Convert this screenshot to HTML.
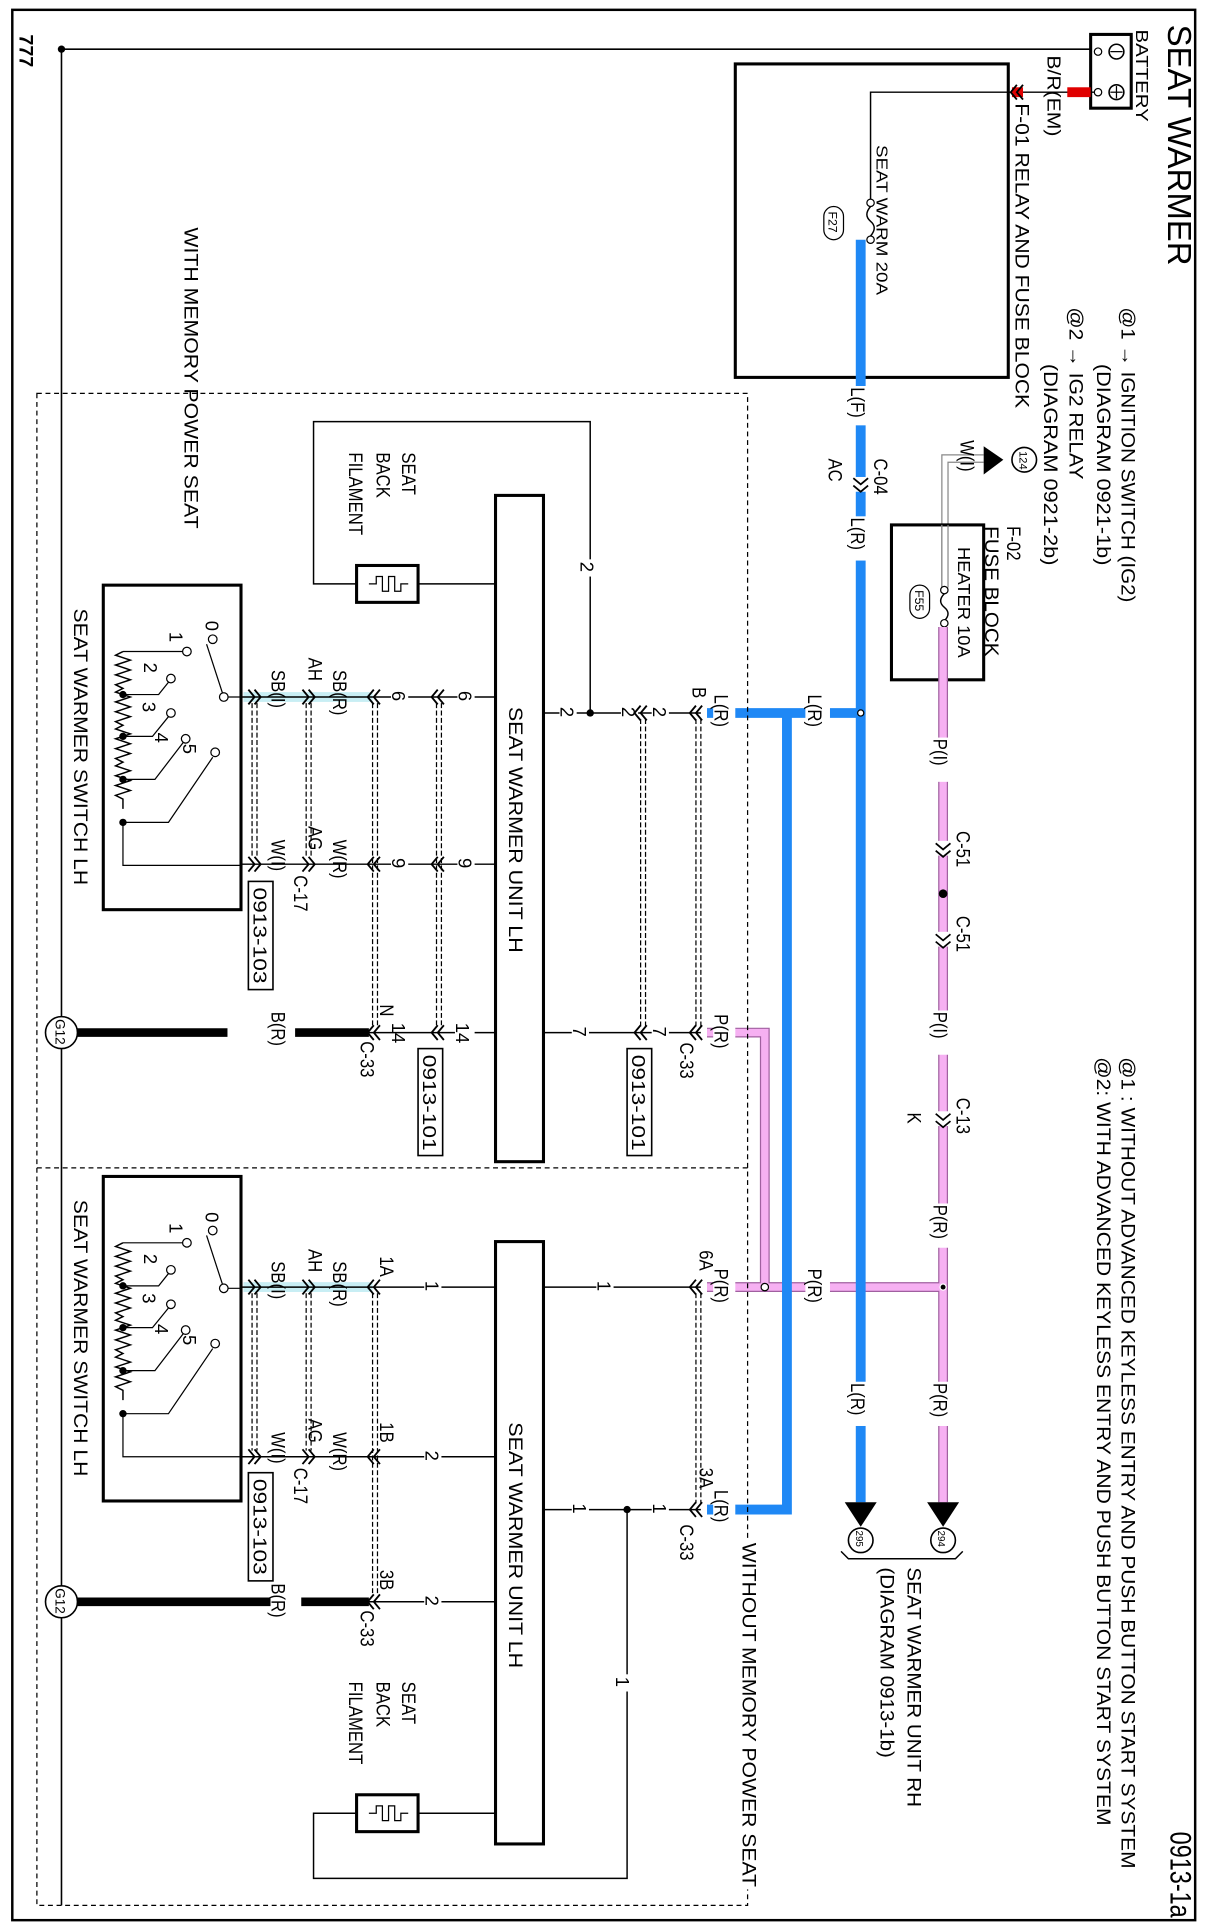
<!DOCTYPE html>
<html><head><meta charset="utf-8"><style>
html,body{margin:0;padding:0;background:#fff}
svg{display:block}
text{font-family:"Liberation Sans",Arial,sans-serif;fill:#000}
</style></head><body>
<svg width="1205" height="1930" viewBox="0 0 980 1570" preserveAspectRatio="none" xmlns="http://www.w3.org/2000/svg">
<defs>
<g id="chev"><path d="M5,-6 L0,0 L5,6 M10,-6 L5,0 L10,6" fill="none" stroke="#000" stroke-width="1.5"/></g>
<g id="chevR"><path d="M-5,-6 L0,0 L-5,6 M-10,-6 L-5,0 L-10,6" fill="none" stroke="#000" stroke-width="1.5"/></g>
</defs>
<rect width="980" height="1570" fill="#fff"/>
<rect x="10" y="8" width="962" height="1554" fill="none" stroke="#000" stroke-width="2"/>

<line x1="50" y1="40" x2="893" y2="40" stroke="#000" stroke-width="1.3"/>
<line x1="50" y1="40" x2="50" y2="1550" stroke="#000" stroke-width="1.3"/>
<circle cx="50" cy="40" r="3" fill="#000"/>
<text transform="translate(16,28) rotate(90)" font-size="16" font-weight="bold">777</text>

<rect x="887" y="28" width="33" height="60" fill="#fff" stroke="#000" stroke-width="2.5"/>
<circle cx="908" cy="42" r="6" fill="none" stroke="#000" stroke-width="1.3"/><line x1="903" y1="42" x2="913" y2="42" stroke="#000"/>
<circle cx="908" cy="75" r="6" fill="none" stroke="#000" stroke-width="1.3"/><line x1="903" y1="75" x2="913" y2="75" stroke="#000"/><line x1="908" y1="70" x2="908" y2="80" stroke="#000"/>
<circle cx="893" cy="42" r="3" fill="#fff" stroke="#000"/>
<circle cx="893" cy="75" r="3" fill="#fff" stroke="#000"/>
<line x1="822" y1="75" x2="890" y2="75" stroke="#000" stroke-width="1.2"/>
<rect x="868" y="71" width="19" height="8" fill="#e00000"/>
<rect x="823" y="71" width="9" height="8" fill="#e00000"/>
<use href="#chev" x="822" y="75"/>

<rect x="598" y="52" width="222" height="255" fill="none" stroke="#000" stroke-width="2.5"/>
<polyline points="822,75 708,75 708,162" fill="none" stroke="#000" stroke-width="1.2"/>
<circle cx="708" cy="165" r="3" fill="#fff" stroke="#000"/>
<path d="M708,168 q-6,7 0,12 q6,5 0,12" fill="none" stroke="#000" stroke-width="1.2"/>
<circle cx="708" cy="195" r="3" fill="#fff" stroke="#000"/>
<rect x="670" y="168" width="16" height="27" rx="8" fill="none" stroke="#000"/>
<text transform="translate(674,172) rotate(90)" font-size="10">F27</text>
<text transform="translate(713,118) rotate(90)" font-size="13" textLength="122" lengthAdjust="spacingAndGlyphs">SEAT WARM 20A</text>

<text transform="translate(950,20) rotate(90)" font-size="27" textLength="196" lengthAdjust="spacingAndGlyphs">SEAT WARMER</text>
<text transform="translate(952,1490) rotate(90)" font-size="24" textLength="70" lengthAdjust="spacingAndGlyphs">0913-1a</text>
<text transform="translate(924,24) rotate(90)" font-size="14" textLength="75" lengthAdjust="spacingAndGlyphs">BATTERY</text>
<text transform="translate(852,45) rotate(90)" font-size="15" textLength="66" lengthAdjust="spacingAndGlyphs">B/R(EM)</text>
<text transform="translate(826,84) rotate(90)" font-size="16" textLength="248" lengthAdjust="spacingAndGlyphs">F-01 RELAY AND FUSE BLOCK</text>
<text transform="translate(912,250) rotate(90)" font-size="16" textLength="240" lengthAdjust="spacingAndGlyphs">@1 → IGNITION SWITCH (IG2)</text>
<text transform="translate(892,296) rotate(90)" font-size="16" textLength="164" lengthAdjust="spacingAndGlyphs">(DIAGRAM 0921-1b)</text>
<text transform="translate(870,250) rotate(90)" font-size="16" textLength="140" lengthAdjust="spacingAndGlyphs">@2 → IG2 RELAY</text>
<text transform="translate(849,296) rotate(90)" font-size="16" textLength="164" lengthAdjust="spacingAndGlyphs">(DIAGRAM 0921-2b)</text>
<text transform="translate(912,860) rotate(90)" font-size="16" textLength="660" lengthAdjust="spacingAndGlyphs">@1 : WITHOUT ADVANCED KEYLESS ENTRY AND PUSH BUTTON START SYSTEM</text>
<text transform="translate(892,860) rotate(90)" font-size="16" textLength="625" lengthAdjust="spacingAndGlyphs">@2: WITH ADVANCED KEYLESS ENTRY AND PUSH BUTTON START SYSTEM</text>

<polyline points="800,370 766,370 766,500" fill="none" stroke="#888" stroke-width="1"/>
<polyline points="800,376 771,376 771,500" fill="none" stroke="#888" stroke-width="1"/>
<path d="M800,363 L800,386 L816,374 Z" fill="#000"/>
<circle cx="833" cy="374" r="10" fill="#fff" stroke="#000" stroke-width="1.3"/>
<text transform="translate(829,367) rotate(90)" font-size="9">124</text>
<text transform="translate(781,358) rotate(90) scale(.85,1)" font-size="16">W(I)</text>
<rect x="725" y="427" width="75" height="126" fill="#fff" stroke="#000" stroke-width="2.5"/>
<polyline points="766,427 766,480 M771,427 771,480" fill="none" stroke="#888" stroke-width="1"/>
<line x1="766" y1="427" x2="766" y2="478" stroke="#888"/><line x1="771" y1="427" x2="771" y2="478" stroke="#888"/>
<text transform="translate(819,428) rotate(90) scale(.85,1)" font-size="16">F-02</text>
<text transform="translate(801,428) rotate(90)" font-size="16" textLength="106" lengthAdjust="spacingAndGlyphs">FUSE BLOCK</text>
<text transform="translate(779,445) rotate(90)" font-size="14" textLength="90" lengthAdjust="spacingAndGlyphs">HEATER 10A</text>
<circle cx="768" cy="480" r="3" fill="#fff" stroke="#000"/>
<path d="M768,483 q-6,6 0,11 q6,5 0,11" fill="none" stroke="#000" stroke-width="1.2"/>
<circle cx="768" cy="507" r="3" fill="#fff" stroke="#000"/>
<rect x="740" y="476" width="16" height="27" rx="8" fill="none" stroke="#000"/>
<text transform="translate(744,480) rotate(90)" font-size="10">F55</text>

<g stroke="#a060a0" stroke-width="8" fill="none"><line x1="767" y1="510" x2="767" y2="1222"/><polyline points="575,840 622,840 622,1047"/><line x1="575" y1="1047" x2="767" y2="1047"/></g>
<g stroke="#f6b0f2" stroke-width="6" fill="none"><line x1="767" y1="510" x2="767" y2="1222"/><polyline points="575,840 622,840 622,1047"/><line x1="575" y1="1047" x2="767" y2="1047"/></g>
<g stroke="#1f88f5" stroke-width="8" fill="none"><line x1="700" y1="195" x2="700" y2="1222"/><line x1="575" y1="580" x2="700" y2="580"/><polyline points="640,580 640,1228 575,1228"/></g>
<circle cx="700" cy="580" r="2.5" fill="#fff" stroke="#000"/>
<circle cx="622" cy="1047" r="3" fill="#fff" stroke="#000"/>
<circle cx="767" cy="1047" r="2.5" fill="#000" stroke="#fff"/>
<circle cx="767" cy="727" r="3.5" fill="#000"/>

<g fill="#fff">
<rect x="690" y="314" width="20" height="32"/><rect x="690" y="388" width="20" height="12"/><rect x="690" y="420" width="20" height="36"/>
<rect x="757" y="600" width="20" height="36"/><rect x="757" y="684" width="20" height="12"/><rect x="757" y="758" width="20" height="12"/>
<rect x="757" y="822" width="20" height="36"/><rect x="757" y="904" width="20" height="12"/><rect x="757" y="979" width="20" height="36"/><rect x="757" y="1124" width="20" height="36"/>
<rect x="690" y="1124" width="20" height="36"/><rect x="655" y="564" width="20" height="34"/><rect x="655" y="1031" width="20" height="34"/>
<rect x="580" y="564" width="18" height="34"/><rect x="580" y="823" width="18" height="34"/><rect x="580" y="1031" width="18" height="34"/><rect x="580" y="1211" width="18" height="34"/>
</g>
<text transform="translate(692,315) rotate(90) scale(.85,1)" font-size="16">L(F)</text>
<path d="M694,389 L700,394 L706,389 M694,395 L700,400 L706,395" fill="none" stroke="#000" stroke-width="1.4"/>
<text transform="translate(711,373) rotate(90) scale(.85,1)" font-size="16">C-04</text>
<text transform="translate(674,373) rotate(90) scale(.85,1)" font-size="16">AC</text>
<text transform="translate(692,421) rotate(90) scale(.85,1)" font-size="16">L(R)</text>
<text transform="translate(759,601) rotate(90) scale(.85,1)" font-size="16">P(I)</text>
<path d="M761,686 L767,691 L773,686 M761,692 L767,697 L773,692" fill="none" stroke="#000" stroke-width="1.4"/>
<text transform="translate(778,676) rotate(90) scale(.85,1)" font-size="16">C-51</text>
<path d="M761,760 L767,765 L773,760 M761,766 L767,771 L773,766" fill="none" stroke="#000" stroke-width="1.4"/>
<text transform="translate(778,745) rotate(90) scale(.85,1)" font-size="16">C-51</text>
<text transform="translate(759,823) rotate(90) scale(.85,1)" font-size="16">P(I)</text>
<path d="M761,906 L767,911 L773,906 M761,912 L767,917 L773,912" fill="none" stroke="#000" stroke-width="1.4"/>
<text transform="translate(778,893) rotate(90) scale(.85,1)" font-size="16">C-13</text>
<text transform="translate(738,905) rotate(90) scale(.85,1)" font-size="16">K</text>
<text transform="translate(759,980) rotate(90) scale(.85,1)" font-size="16">P(R)</text>
<text transform="translate(759,1125) rotate(90) scale(.85,1)" font-size="16">P(R)</text>
<text transform="translate(692,1125) rotate(90) scale(.85,1)" font-size="16">L(R)</text>
<text transform="translate(657,565) rotate(90) scale(.85,1)" font-size="16">L(R)</text>
<text transform="translate(657,1032) rotate(90) scale(.85,1)" font-size="16">P(R)</text>

<path d="M687,1222 L713,1222 L700,1242 Z" fill="#000"/>
<path d="M754,1222 L780,1222 L767,1242 Z" fill="#000"/>
<circle cx="700" cy="1253" r="10" fill="#fff" stroke="#000" stroke-width="1.3"/>
<text transform="translate(696,1245) rotate(90)" font-size="8">295</text>
<circle cx="767" cy="1253" r="10" fill="#fff" stroke="#000" stroke-width="1.3"/>
<text transform="translate(763,1245) rotate(90)" font-size="8">294</text>
<path d="M684,1262 L690,1268 L777,1268 L783,1262" fill="none" stroke="#000" stroke-width="1.2"/>
<text transform="translate(738,1275) rotate(90)" font-size="16" textLength="195" lengthAdjust="spacingAndGlyphs">SEAT WARMER UNIT RH</text>
<text transform="translate(716,1275) rotate(90)" font-size="16" textLength="155" lengthAdjust="spacingAndGlyphs">(DIAGRAM 0913-1b)</text>

<rect x="30" y="320" width="578" height="1230" fill="none" stroke="#000" stroke-width="1" stroke-dasharray="4,3"/>
<line x1="30" y1="950" x2="608" y2="950" stroke="#000" stroke-width="1" stroke-dasharray="4,3"/>
<text transform="translate(150,185) rotate(90)" font-size="16" textLength="245" lengthAdjust="spacingAndGlyphs">WITH MEMORY POWER SEAT</text>
<rect x="603" y="1252" width="18" height="285" fill="#fff"/>
<text transform="translate(604,1255) rotate(90)" font-size="16" textLength="280" lengthAdjust="spacingAndGlyphs">WITHOUT MEMORY POWER SEAT</text>

<text transform="translate(563,559) rotate(90) scale(.85,1)" font-size="16">B</text>
<text transform="translate(581,565) rotate(90) scale(.85,1)" font-size="16">L(R)</text>
<text transform="translate(581,825) rotate(90) scale(.85,1)" font-size="16">P(R)</text>
<text transform="translate(553,848) rotate(90) scale(.85,1)" font-size="16">C-33</text>
<text transform="translate(569,1017) rotate(90) scale(.85,1)" font-size="16">6A</text>
<text transform="translate(581,1032) rotate(90) scale(.85,1)" font-size="16">P(R)</text>
<text transform="translate(569,1194) rotate(90) scale(.85,1)" font-size="16">3A</text>
<text transform="translate(581,1212) rotate(90) scale(.85,1)" font-size="16">L(R)</text>
<text transform="translate(553,1240) rotate(90) scale(.85,1)" font-size="16">C-33</text>

<!-- UPPER -->
<rect x="403" y="403" width="39" height="542" fill="#fff" stroke="#000" stroke-width="2.5"/>
<text transform="translate(414,575) rotate(90)" font-size="16" textLength="200" lengthAdjust="spacingAndGlyphs">SEAT WARMER UNIT LH</text>
<line x1="442" y1="580" x2="570" y2="580" stroke="#000" stroke-width="1.2"/>
<line x1="442" y1="840" x2="570" y2="840" stroke="#000" stroke-width="1.2"/>
<polyline points="480,580 480,343 255,343 255,475 290,475" fill="none" stroke="#000" stroke-width="1.2"/>
<circle cx="480" cy="580" r="3" fill="#000"/>
<rect x="290" y="460" width="50" height="30" fill="#fff" stroke="#000" stroke-width="2.5"/>
<path d="M300,475 h6 v-6 h5 v12 h5 v-12 h5 v12 h5 v-6 h6" fill="none" stroke="#000"/>
<line x1="340" y1="475" x2="403" y2="475" stroke="#000" stroke-width="1.2"/>
<text transform="translate(327,368) rotate(90) scale(.85,1)" font-size="16">SEAT</text>
<text transform="translate(306,368) rotate(90) scale(.85,1)" font-size="16">BACK</text>
<text transform="translate(284,368) rotate(90) scale(.85,1)" font-size="16">FILAMENT</text>
<g fill="#fff"><rect x="470" y="455" width="14" height="14"/><rect x="455" y="573" width="14" height="14"/><rect x="505" y="573" width="14" height="14"/><rect x="530" y="573" width="14" height="14"/><rect x="465" y="833" width="14" height="14"/><rect x="530" y="833" width="14" height="14"/></g>
<text transform="translate(472,457) rotate(90)" font-size="15">2</text>
<text transform="translate(456,575) rotate(90)" font-size="15">2</text>
<text transform="translate(506,575) rotate(90)" font-size="15">2</text>
<text transform="translate(531,575) rotate(90)" font-size="15">2</text>
<text transform="translate(466,835) rotate(90)" font-size="15">7</text>
<text transform="translate(531,835) rotate(90)" font-size="15">7</text>
<use href="#chev" x="516" y="580"/><use href="#chev" x="516" y="840"/>
<use href="#chev" x="561" y="580"/><use href="#chev" x="561" y="840"/>
<g stroke="#000" stroke-width="1" stroke-dasharray="4,2"><line x1="521" y1="585" x2="521" y2="835"/><line x1="525" y1="585" x2="525" y2="835"/><line x1="566" y1="585" x2="566" y2="835"/><line x1="570" y1="585" x2="570" y2="835"/></g>
<rect x="510" y="853" width="20" height="87" fill="#fff" stroke="#000" stroke-width="1.3"/>
<text transform="translate(514,858) rotate(90)" font-size="15" textLength="78" lengthAdjust="spacingAndGlyphs">0913-101</text>
<rect x="198" y="563" width="105" height="8" fill="#c8eef4"/>
<line x1="197" y1="567" x2="403" y2="567" stroke="#000" stroke-width="1.2"/>
<line x1="197" y1="703" x2="403" y2="703" stroke="#000" stroke-width="1.2"/>
<line x1="300" y1="840" x2="403" y2="840" stroke="#000" stroke-width="1.2"/>
<line x1="62" y1="840" x2="185" y2="840" stroke="#000" stroke-width="7"/>
<line x1="240" y1="840" x2="300" y2="840" stroke="#000" stroke-width="7"/>
<g fill="#fff"><rect x="318" y="560" width="14" height="14"/><rect x="372" y="560" width="14" height="14"/><rect x="318" y="696" width="14" height="14"/><rect x="372" y="696" width="14" height="14"/><rect x="370" y="830" width="16" height="20"/></g>
<text transform="translate(319,562) rotate(90)" font-size="15">6</text>
<text transform="translate(373,562) rotate(90)" font-size="15">6</text>
<text transform="translate(319,698) rotate(90)" font-size="15">9</text>
<text transform="translate(373,698) rotate(90)" font-size="15">9</text>
<text transform="translate(371,832) rotate(90)" font-size="15">14</text>
<text transform="translate(319,832) rotate(90)" font-size="15">14</text>
<text transform="translate(309,817) rotate(90) scale(.85,1)" font-size="16">N</text>
<text transform="translate(293,847) rotate(90) scale(.85,1)" font-size="16">C-33</text>
<text transform="translate(221,823) rotate(90) scale(.85,1)" font-size="16">B(R)</text>
<text transform="translate(271,545) rotate(90) scale(.85,1)" font-size="16">SB(R)</text>
<text transform="translate(251,535) rotate(90) scale(.85,1)" font-size="16">AH</text>
<text transform="translate(221,545) rotate(90) scale(.85,1)" font-size="16">SB(I)</text>
<text transform="translate(271,683) rotate(90) scale(.85,1)" font-size="16">W(R)</text>
<text transform="translate(251,672) rotate(90) scale(.85,1)" font-size="16">AG</text>
<text transform="translate(221,683) rotate(90) scale(.85,1)" font-size="16">W(I)</text>
<text transform="translate(239,712) rotate(90) scale(.85,1)" font-size="16">C-17</text>
<use href="#chev" x="299" y="567"/><use href="#chev" x="299" y="703"/><use href="#chev" x="299" y="840"/>
<use href="#chev" x="351" y="567"/><use href="#chev" x="351" y="703"/><use href="#chev" x="351" y="840"/>
<use href="#chevR" x="256" y="567"/><use href="#chevR" x="256" y="703"/>
<use href="#chevR" x="212" y="567"/><use href="#chevR" x="212" y="703"/>
<g stroke="#000" stroke-width="1" stroke-dasharray="4,2"><line x1="303" y1="572" x2="303" y2="835"/><line x1="307" y1="572" x2="307" y2="835"/><line x1="355" y1="572" x2="355" y2="835"/><line x1="359" y1="572" x2="359" y2="835"/><line x1="249" y1="572" x2="249" y2="698"/><line x1="253" y1="572" x2="253" y2="698"/><line x1="205" y1="572" x2="205" y2="698"/><line x1="209" y1="572" x2="209" y2="698"/></g>
<rect x="340" y="853" width="20" height="87" fill="#fff" stroke="#000" stroke-width="1.3"/>
<text transform="translate(344,858) rotate(90)" font-size="15" textLength="78" lengthAdjust="spacingAndGlyphs">0913-101</text>
<rect x="202" y="717" width="20" height="88" fill="#fff" stroke="#000" stroke-width="1.3"/>
<text transform="translate(206,722) rotate(90)" font-size="15" textLength="78" lengthAdjust="spacingAndGlyphs">0913-103</text>
<circle cx="50" cy="840" r="13" fill="#fff" stroke="#000" stroke-width="1.3"/>
<text transform="translate(45,829) rotate(90)" font-size="11">G12</text>

<g id="sw">
<rect x="84" y="476" width="112" height="264" fill="#fff" stroke="#000" stroke-width="2.5"/>
<path d="M100,530 l-6,3 l12,4 l-12,4 l12,4 l-12,4 l12,4 l-12,4 l6,3 l-6,3 l12,4 l-12,4 l12,4 l-12,4 l12,4 l-12,4 l6,3 l-6,3 l12,4 l-12,4 l12,4 l-12,4 l12,4 l-12,4 l6,3 l-6,3 l12,4 l-12,4 l12,4 l-12,4 l12,4 l-12,4 l6,3 l0,8" fill="none" stroke="#000" stroke-width="1.2"/>
<polyline points="100,530 152,530" fill="none" stroke="#000"/>
<polyline points="100,565 129,565 137,555" fill="none" stroke="#000"/>
<polyline points="100,599 124,599 137,583" fill="none" stroke="#000"/>
<polyline points="100,634 126,634 149,604" fill="none" stroke="#000"/>
<polyline points="100,669 137,669 173,616" fill="none" stroke="#000"/>
<polyline points="100,669 100,704 197,704" fill="none" stroke="#000"/>
<g fill="#000"><circle cx="100" cy="565" r="3"/><circle cx="100" cy="599" r="3"/><circle cx="100" cy="634" r="3"/><circle cx="100" cy="669" r="3"/></g>
<g fill="#fff" stroke="#000"><circle cx="173" cy="520" r="3.5"/><circle cx="152" cy="530" r="3.5"/><circle cx="139" cy="552" r="3.5"/><circle cx="139" cy="580" r="3.5"/><circle cx="151" cy="601" r="3.5"/><circle cx="175" cy="612" r="3.5"/></g>
<line x1="181" y1="567" x2="197" y2="567" stroke="#000"/>
<line x1="181" y1="564" x2="168" y2="524" stroke="#000"/>
<circle cx="182" cy="567" r="3.5" fill="#fff" stroke="#000"/>
<text transform="translate(167,505) rotate(90)" font-size="15">0</text>
<text transform="translate(138,514) rotate(90)" font-size="15">1</text>
<text transform="translate(117,539) rotate(90)" font-size="15">2</text>
<text transform="translate(116,571) rotate(90)" font-size="15">3</text>
<text transform="translate(126,596) rotate(90)" font-size="15">4</text>
<text transform="translate(149,605) rotate(90)" font-size="15">5</text>
<text transform="translate(60,495) rotate(90)" font-size="16" textLength="225" lengthAdjust="spacingAndGlyphs">SEAT WARMER SWITCH LH</text>
</g>

<!-- LOWER -->
<rect x="403" y="1010" width="39" height="490" fill="#fff" stroke="#000" stroke-width="2.5"/>
<text transform="translate(414,1157) rotate(90)" font-size="16" textLength="200" lengthAdjust="spacingAndGlyphs">SEAT WARMER UNIT LH</text>
<line x1="442" y1="1047" x2="570" y2="1047" stroke="#000" stroke-width="1.2"/>
<line x1="442" y1="1228" x2="570" y2="1228" stroke="#000" stroke-width="1.2"/>
<polyline points="510,1228 510,1528 255,1528 255,1475 290,1475" fill="none" stroke="#000" stroke-width="1.2"/>
<circle cx="510" cy="1228" r="3" fill="#000"/>
<rect x="290" y="1460" width="50" height="30" fill="#fff" stroke="#000" stroke-width="2.5"/>
<path d="M300,1475 h6 v-6 h5 v12 h5 v-12 h5 v12 h5 v-6 h6" fill="none" stroke="#000"/>
<line x1="340" y1="1475" x2="403" y2="1475" stroke="#000" stroke-width="1.2"/>
<text transform="translate(327,1368) rotate(90) scale(.85,1)" font-size="16">SEAT</text>
<text transform="translate(306,1368) rotate(90) scale(.85,1)" font-size="16">BACK</text>
<text transform="translate(284,1368) rotate(90) scale(.85,1)" font-size="16">FILAMENT</text>
<g fill="#fff"><rect x="485" y="1040" width="14" height="14"/><rect x="465" y="1221" width="14" height="14"/><rect x="530" y="1221" width="14" height="14"/><rect x="500" y="1362" width="14" height="14"/></g>
<text transform="translate(486,1042) rotate(90)" font-size="15">1</text>
<text transform="translate(466,1223) rotate(90)" font-size="15">1</text>
<text transform="translate(531,1223) rotate(90)" font-size="15">1</text>
<text transform="translate(501,1364) rotate(90)" font-size="15">1</text>
<use href="#chev" x="561" y="1047"/><use href="#chev" x="561" y="1228"/>
<g stroke="#000" stroke-width="1" stroke-dasharray="4,2"><line x1="566" y1="1052" x2="566" y2="1223"/><line x1="570" y1="1052" x2="570" y2="1223"/></g>
<rect x="198" y="1043" width="105" height="8" fill="#c8eef4"/>
<line x1="197" y1="1047" x2="403" y2="1047" stroke="#000" stroke-width="1.2"/>
<line x1="197" y1="1185" x2="403" y2="1185" stroke="#000" stroke-width="1.2"/>
<line x1="300" y1="1303" x2="403" y2="1303" stroke="#000" stroke-width="1.2"/>
<line x1="62" y1="1303" x2="220" y2="1303" stroke="#000" stroke-width="7"/>
<line x1="245" y1="1303" x2="300" y2="1303" stroke="#000" stroke-width="7"/>
<g fill="#fff"><rect x="345" y="1040" width="14" height="14"/><rect x="345" y="1178" width="14" height="14"/><rect x="345" y="1296" width="14" height="14"/></g>
<text transform="translate(346,1042) rotate(90)" font-size="15">1</text>
<text transform="translate(346,1180) rotate(90)" font-size="15">2</text>
<text transform="translate(346,1298) rotate(90)" font-size="15">2</text>
<text transform="translate(309,1022) rotate(90) scale(.85,1)" font-size="16">1A</text>
<text transform="translate(309,1157) rotate(90) scale(.85,1)" font-size="16">1B</text>
<text transform="translate(309,1277) rotate(90) scale(.85,1)" font-size="16">3B</text>
<text transform="translate(293,1310) rotate(90) scale(.85,1)" font-size="16">C-33</text>
<text transform="translate(221,1288) rotate(90) scale(.85,1)" font-size="16">B(R)</text>
<text transform="translate(271,1026) rotate(90) scale(.85,1)" font-size="16">SB(R)</text>
<text transform="translate(251,1016) rotate(90) scale(.85,1)" font-size="16">AH</text>
<text transform="translate(221,1026) rotate(90) scale(.85,1)" font-size="16">SB(I)</text>
<text transform="translate(271,1165) rotate(90) scale(.85,1)" font-size="16">W(R)</text>
<text transform="translate(251,1154) rotate(90) scale(.85,1)" font-size="16">AG</text>
<text transform="translate(221,1165) rotate(90) scale(.85,1)" font-size="16">W(I)</text>
<text transform="translate(239,1194) rotate(90) scale(.85,1)" font-size="16">C-17</text>
<use href="#chev" x="299" y="1047"/><use href="#chev" x="299" y="1185"/><use href="#chev" x="299" y="1303"/>
<use href="#chevR" x="256" y="1047"/><use href="#chevR" x="256" y="1185"/>
<use href="#chevR" x="212" y="1047"/><use href="#chevR" x="212" y="1185"/>
<g stroke="#000" stroke-width="1" stroke-dasharray="4,2"><line x1="303" y1="1052" x2="303" y2="1298"/><line x1="307" y1="1052" x2="307" y2="1298"/><line x1="249" y1="1052" x2="249" y2="1180"/><line x1="253" y1="1052" x2="253" y2="1180"/><line x1="205" y1="1052" x2="205" y2="1180"/><line x1="209" y1="1052" x2="209" y2="1180"/></g>
<rect x="202" y="1198" width="20" height="88" fill="#fff" stroke="#000" stroke-width="1.3"/>
<text transform="translate(206,1203) rotate(90)" font-size="15" textLength="78" lengthAdjust="spacingAndGlyphs">0913-103</text>
<circle cx="50" cy="1303" r="13" fill="#fff" stroke="#000" stroke-width="1.3"/>
<text transform="translate(45,1292) rotate(90)" font-size="11">G12</text>
<use href="#sw" x="0" y="481"/>
</svg>
</body></html>
